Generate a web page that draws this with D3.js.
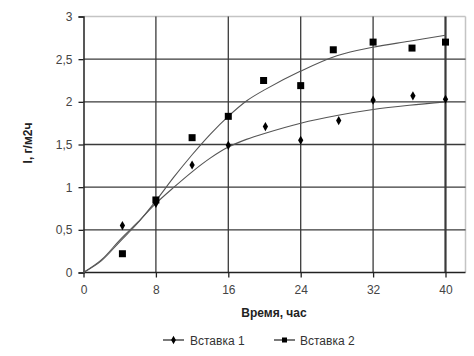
<!DOCTYPE html>
<html><head><meta charset="utf-8">
<script src="https://cdn.jsdelivr.net/npm/d3@7"></script>
<style>body{margin:0;background:#fff}svg{display:block}text{font-family:"Liberation Sans",Arial,sans-serif}</style>
</head><body>
<script>
const seriesNames = ["Вставка 1", "Вставка 2"];
const time1 = [4.3, 8, 12, 16, 20.1, 24, 28.2, 32, 36.4, 40];
const vals1 = [0.55, 0.81, 1.26, 1.49, 1.71, 1.55, 1.78, 2.02, 2.07, 2.03];
const time2 = [4.3, 8, 12, 16, 19.9, 24, 27.6, 32, 36.3, 40];
const vals2 = [0.22, 0.85, 1.58, 1.83, 2.25, 2.19, 2.61, 2.70, 2.63, 2.70];
const trendTime = [0, 2, 4, 6, 8, 10, 12, 14, 16, 18, 20, 24, 28, 32, 36, 40];
const trend1 = [0, 0.15, 0.38, 0.59, 0.81, 1.0, 1.18, 1.34, 1.47, 1.56, 1.63, 1.75, 1.84, 1.91, 1.96, 2.0];
const trend2 = [0, 0.14, 0.36, 0.58, 0.84, 1.12, 1.38, 1.62, 1.83, 2.01, 2.14, 2.36, 2.54, 2.64, 2.71, 2.78];
const xTicks = [0, 8, 16, 24, 32, 40];
const yTicks = [0, 0.5, 1, 1.5, 2, 2.5, 3];
const xTitle = "Время, час";
const yTitle = "I, г/м2ч";

const W = 474, H = 356;
const svg = d3.select("body").append("svg").attr("width", W).attr("height", H);
const x = d3.scaleLinear().domain([0, 40]).range([83.5, 445.5]);
const y = d3.scaleLinear().domain([0, 3]).range([272.5, 16.5]);
const plotRight = 465.5;
const fmt = d => String(d).replace(".", ",");

// frame top/right (light gray)
svg.append("line").attr("x1", x(0)).attr("x2", plotRight).attr("y1", y(3)).attr("y2", y(3)).attr("stroke", "#c4c4c4").attr("stroke-width", 1.5);
svg.append("line").attr("x1", plotRight).attr("x2", plotRight).attr("y1", y(3)).attr("y2", y(0)).attr("stroke", "#c4c4c4").attr("stroke-width", 1.5);

// horizontal grid
svg.append("g").selectAll("line").data(yTicks.filter(d => d > 0 && d < 3)).join("line")
  .attr("x1", x(0)).attr("x2", plotRight).attr("y1", d => y(d)).attr("y2", d => y(d))
  .attr("stroke", "#3a3a3a").attr("stroke-width", 1.3);
// vertical grid
svg.append("g").selectAll("line").data(xTicks.filter(d => d > 0)).join("line")
  .attr("x1", d => x(d)).attr("x2", d => x(d)).attr("y1", y(3)).attr("y2", y(0))
  .attr("stroke", "#3a3a3a").attr("stroke-width", d => d === 40 ? 2.2 : 1.3);

// axes
const xAxis = svg.append("g").attr("transform", `translate(0,${y(0)})`)
  .call(d3.axisBottom(x).tickValues(xTicks).tickSize(5).tickPadding(8).tickFormat(fmt));
xAxis.select(".domain").attr("d", `M${x(0)},0H${plotRight}`).attr("stroke", "#222").attr("stroke-width", 1.5);
const yAxis = svg.append("g").attr("transform", `translate(${x(0)},0)`)
  .call(d3.axisLeft(y).tickValues(yTicks).tickSize(5).tickPadding(6).tickFormat(fmt));
yAxis.select(".domain").attr("stroke", "#222").attr("stroke-width", 1.5);
svg.selectAll(".tick line").attr("stroke", "#222").attr("stroke-width", 1.3);
svg.selectAll(".tick text").attr("font-size", 12).attr("fill", "#444").attr("font-family", "Liberation Sans, Arial, sans-serif");

// trend lines
const line = d3.line().x((d, i) => x(trendTime[i])).y(d => y(d)).curve(d3.curveCatmullRom.alpha(0.5));
[trend1, trend2].forEach(t => {
  svg.append("path").attr("d", line(t)).attr("fill", "none").attr("stroke", "#555").attr("stroke-width", 1.1);
});

// markers
const diamond = d3.symbol().type(d3.symbolDiamond).size(24);
svg.append("g").selectAll("path").data(vals1).join("path")
  .attr("d", diamond).attr("transform", (d, i) => `translate(${x(time1[i])},${y(d)})`).attr("fill", "#000");
svg.append("g").selectAll("rect").data(vals2).join("rect")
  .attr("x", (d, i) => x(time2[i]) - 3.5).attr("y", d => y(d) - 3.5).attr("width", 7).attr("height", 7).attr("fill", "#000");

// titles
svg.append("text").attr("x", 274).attr("y", 317).attr("text-anchor", "middle").attr("font-size", 12).attr("font-weight", "bold").attr("fill", "#222").text(xTitle);
svg.append("text").attr("transform", "translate(32,143) rotate(-90)").attr("text-anchor", "middle").attr("font-size", 12).attr("font-weight", "bold").attr("fill", "#222").text(yTitle);

// legend
const leg = [{ lx: 163, tx: 190, type: "d" }, { lx: 274, tx: 300, type: "s" }];
leg.forEach((l, i) => {
  const g = svg.append("g");
  g.append("line").attr("x1", l.lx).attr("x2", l.lx + 21).attr("y1", 340).attr("y2", 340).attr("stroke", "#222").attr("stroke-width", 1.2);
  if (l.type === "d") g.append("path").attr("d", d3.symbol().type(d3.symbolDiamond).size(20)).attr("transform", `translate(${l.lx + 10.5},340)`).attr("fill", "#000");
  else g.append("rect").attr("x", l.lx + 8).attr("y", 337.5).attr("width", 5).attr("height", 5).attr("fill", "#000");
  g.append("text").attr("x", l.tx).attr("y", 344.5).attr("font-size", 12).attr("fill", "#333").text(seriesNames[i]);
});
</script>
</body></html>
